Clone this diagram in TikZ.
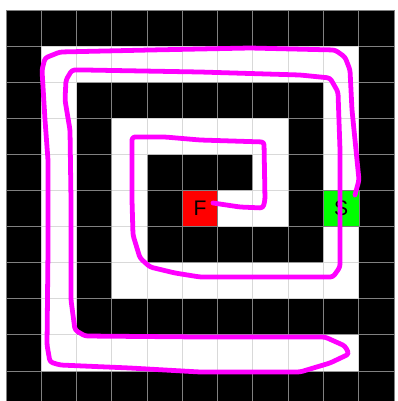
\documentclass[tikz,border=0pt]{standalone}
\usepackage{fontspec}
\setsansfont{Liberation Sans}
\usepackage{tikz}
\definecolor{trailpink}{RGB}{255,0,255}
\definecolor{startgreen}{RGB}{0,255,0}
\definecolor{finishred}{RGB}{255,0,0}

\begin{document}
\begin{tikzpicture}[x=0.025cm, y=-0.025cm,
            darkgrid/.style={gray, line width=0.7pt},
            lightgrid/.style={gray!30, line width=0.7pt},
            lbl/.style={font=\sffamily\fontsize{15}{15}\selectfont, inner sep=0pt},
            trail/.style={draw=trailpink, line width=3.4pt, line join=round, line cap=round, rounded corners=2pt},
        ]
        \useasboundingbox (0,0) rectangle (397,401);
        \fill[white] (0,0) rectangle (397,401);
        \clip (0,0) rectangle (397,401);

        % maze, one unit per cell
        \begin{scope}[shift={(6,10)}, x=0.8818cm, y=-0.9025cm]
            \fill[black] (0,0) rectangle (11,11);
            \foreach \i in {0,...,11} {
                \draw[darkgrid] (\i,0) -- (\i,11);
                \draw[darkgrid] (0,\i) -- (11,\i);
            }
            \begin{scope}
                \clip (1,1) rectangle (10,2)
                      (1,1) rectangle (2,10)
                      (9,1) rectangle (10,8)
                      (1,9) rectangle (10,10)
                      (3,3) rectangle (8,4)
                      (3,3) rectangle (4,8)
                      (3,7) rectangle (10,8)
                      (7,3) rectangle (8,6)
                      (5,5) rectangle (8,6);
                \fill[white] (0,0) rectangle (11,11);
                \foreach \i in {0,...,11} {
                    \draw[lightgrid] (\i,0) -- (\i,11);
                    \draw[lightgrid] (0,\i) -- (11,\i);
                }
            \end{scope}
            \fill[finishred, draw=gray] (5,5) rectangle (6,6);
            \fill[startgreen, draw=gray] (9,5) rectangle (10,6);
            \node[lbl] (finish) at (5.5,5.5) {F};
            \node[lbl] (start) at (9.5,5.5) {S};
        \end{scope}

        % hand drawn trail
        \draw[trail] (355,195) -- (359,180) -- (355,140) -- (352,110) -- (350,70) -- (345,57)
            -- (335,50) -- (250,48) -- (150,50) -- (60,52) -- (45,58) -- (42,70) -- (45,120)
            -- (48,160) -- (48,250) -- (47,345) -- (50,362) -- (60,365) -- (130,368) -- (200,372)
            -- (300,372) -- (330,363) -- (349,354) -- (345,346) -- (325,337) -- (200,337)
            -- (85,336) -- (75,330) -- (71,300) -- (71,200) -- (70,130) -- (65,100) -- (66,80)
            -- (72,70) -- (85,70) -- (200,72) -- (300,75) -- (330,78) -- (338,92) -- (340,150)
            -- (340,267) -- (333,277) -- (300,277) -- (200,277) -- (175,273) -- (150,267)
            -- (140,258) -- (133,235) -- (132,200) -- (132,137) -- (165,137) -- (200,140)
            -- (264,142) -- (265,200) -- (263,208) -- (240,207) -- (213,203);
    \end{tikzpicture}
\end{document}
